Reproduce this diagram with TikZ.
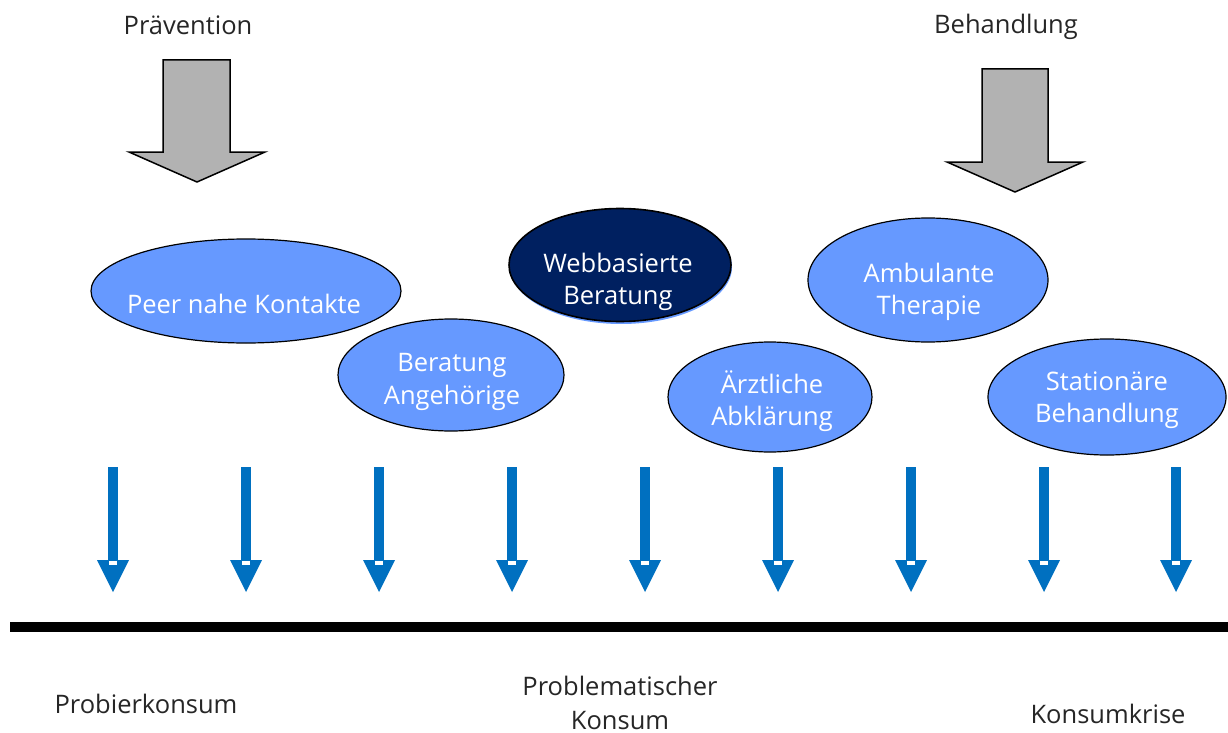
\documentclass[tikz,border=0pt]{standalone}
\usepackage{fontspec}
\setmainfont{Open Sans}
\usetikzlibrary{shapes.geometric}
\definecolor{ellfill}{HTML}{6699FF}
\definecolor{navy}{HTML}{002060}
\definecolor{arrblue}{HTML}{0070C0}
\definecolor{blockgray}{HTML}{B2B2B2}
\tikzset{
  lbl/.style={font=\fontsize{25.5}{34}\selectfont, text=black!85, align=center},
  ell/.style={ellipse, draw=black, line width=1.2pt, fill=ellfill, inner sep=0pt},
  elltext/.style={text=white, font=\fontsize{25.5}{32.5}\selectfont, align=center, inner sep=0pt},
  block/.style={draw=black, line width=1.5pt, fill=blockgray, line join=miter},
  bluearr/.style={fill=arrblue, draw=none}
}
\begin{document}
\begin{tikzpicture}[x=1pt,y=-1pt]
\useasboundingbox (0,0) rectangle (1228,733);
% top labels
\node[lbl] (prae) at (188,25) {Prävention};
\node[lbl] (behl) at (1006,27) {Behandlung};
% gray block arrows
\draw[block] (163,60) -- (230,60) -- (230,152) -- (265,152) -- (197,182) -- (129,152) -- (163,152) -- cycle;
\draw[block] (982,69) -- (1048,69) -- (1048,162) -- (1083,162) -- (1015,192) -- (947,162) -- (982,162) -- cycle;
% ellipses
\node[ell, minimum width=310, minimum height=104] (peer) at (246,291) {};
\node[elltext] (peert) at (244,304) {Peer nahe Kontakte};
\node[ell, minimum width=226, minimum height=112] (ang) at (451,375) {};
\node[elltext] (angt) at (452,382) {Beratung\\Angehörige};
\fill[ellfill] (621,267) ellipse [x radius=111, y radius=57];
\node[ell, fill=navy, minimum width=222, minimum height=113, line width=1.6pt] (web) at (620,265) {};
\node[elltext] (webt) at (618,282) {Webbasierte\\Beratung};
\node[ell, minimum width=240, minimum height=124] (amb) at (928,280) {};
\node[elltext] (ambt) at (929,292) {Ambulante\\Therapie};
\node[ell, minimum width=204, minimum height=110] (arzt) at (770,397) {};
\node[elltext] (arztt) at (772,401) {Ärztliche\\Abklärung};
\node[ell, minimum width=238, minimum height=116] (stat) at (1107,397) {};
\node[elltext] (statt) at (1107,400) {Stationäre\\Behandlung};
% blue arrows
\foreach \x in {113,246,379,512,645,778,911,1044,1176}{
  \fill[bluearr] (\x-5,467) rectangle (\x+5,561);
  \fill[bluearr] (\x-16,560) -- (\x+16,560) -- (\x,592) -- cycle;
  \fill[white] (\x-4,561) rectangle (\x+4,565);
}
% baseline
\fill[black] (10,622) rectangle (1228,632);
% bottom labels
\node[lbl] (probier) at (146,704) {Probierkonsum};
\node[lbl] (problem) at (620,703) {Problematischer\\Konsum};
\node[lbl] (krise) at (1108,714) {Konsumkrise};
\end{tikzpicture}
\end{document}
